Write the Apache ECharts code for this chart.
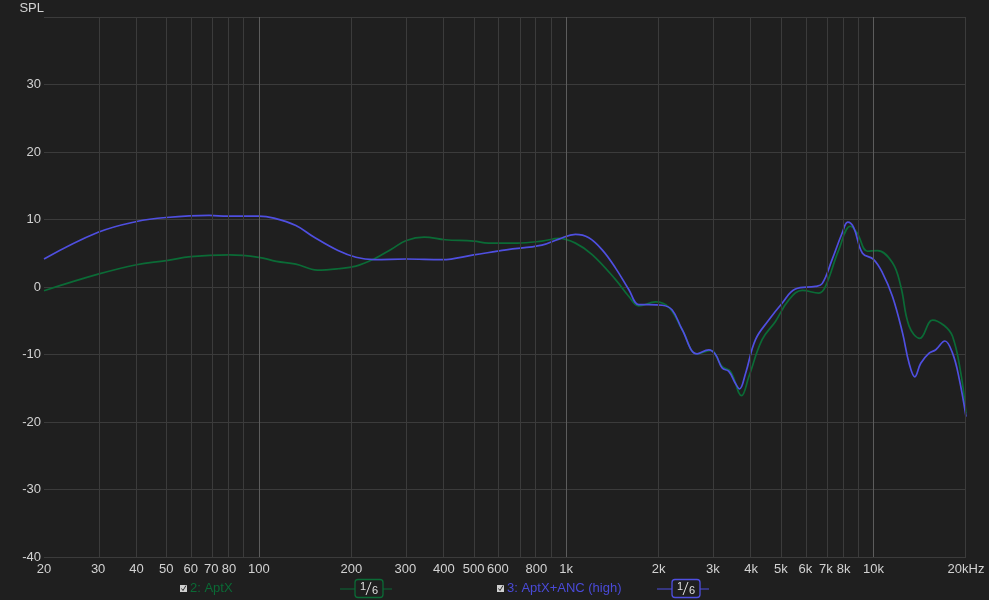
<!DOCTYPE html>
<html><head><meta charset="utf-8">
<script src="https://cdn.jsdelivr.net/npm/echarts@6/dist/echarts.min.js"></script>
<style>html,body{margin:0;padding:0;background:#1f1f1f}#c{width:989px;height:600px}</style>
</head><body><div id="c"></div>
<script>
// Frequencies (Hz) and SPL (dB)
const aptxFreq = [20,30,40,50,60,80,100,114,132,155,181,207,237,270,302,345,404,500,558,692,834,948,1072,1215,1448,1600,1723,1954,2158,2384,2667,2951,3219,3427,3723,3929,4341,4798,5305,5865,6640,6980,7709,8412,8845,9560,10300,11530,12270,13060,14160,15560,16980,18080,19230,20000];
const aptxSpl  = [-0.55,1.9,3.3,3.9,4.5,4.75,4.4,3.8,3.4,2.5,2.7,3.1,4.15,5.6,6.9,7.4,7.0,6.8,6.5,6.5,6.8,7.2,6.5,4.8,1.1,-1.4,-2.8,-2.2,-3.0,-6.3,-9.9,-9.4,-11.8,-12.5,-16.1,-13.3,-7.8,-5.1,-1.9,-0.5,-0.9,0.1,5.5,9.0,8.0,5.3,5.4,3.6,0.1,-5.8,-7.6,-4.9,-5.7,-7.3,-12.7,-18.7];
const ancFreq  = [20,30,40,50,69,79,100,112,132,151,181,207,237,302,394,500,638,834,947,1072,1185,1310,1448,1600,1723,1857,2053,2213,2384,2667,2911,3062,3219,3383,3557,3665,3835,4131,4563,5043,5572,6476,6808,7338,7909,8246,8623,9209,10000,10697,11530,12430,13060,13630,14250,15170,15950,17070,18080,18990,20000];
const ancSpl   = [4.15,8.1,9.7,10.3,10.6,10.5,10.5,10.2,9.1,7.4,5.4,4.4,4.05,4.15,4.05,4.75,5.5,6.2,7.1,7.8,7.3,5.5,2.8,-0.4,-2.6,-2.6,-2.7,-3.4,-6.3,-9.9,-9.3,-10.0,-12.0,-12.5,-14.3,-15.1,-12.8,-7.8,-4.9,-2.4,-0.3,0.1,0.5,4.1,8.0,9.6,8.8,5.0,4.1,2.1,-1.4,-6.8,-11.3,-13.3,-11.3,-9.8,-9.3,-8.0,-9.8,-13.5,-19.2];
const gridFreqs = [20,30,40,50,60,70,80,90,100,200,300,400,500,600,700,800,900,1000,2000,3000,4000,5000,6000,7000,8000,9000,10000,20000];
const labelFreqs = [20,30,40,50,60,70,80,100,200,300,400,500,600,800,1000,2000,3000,4000,5000,6000,7000,8000,10000,20000];
const decadeFreqs = [100,1000,10000];

const L = Math.log10;
const toPts = (f, v) => f.map((x, i) => [L(x), v[i]]);
const fmtF = v => {
  const f = Math.round(Math.pow(10, v));
  if (f >= 20000) return '20kHz';
  return f >= 1000 ? (f / 1000) + 'k' : String(f);
};

const chart = echarts.init(document.getElementById('c'), null, {renderer: 'canvas'});
const GREEN = '#0b6b36', BLUE = '#4f4fe0';
const FONT = 'Liberation Sans, Arial, sans-serif';

function legendItem(x, textX, boxX, label, color, textColor) {
  return [
    {type: 'rect', shape: {x: x, y: 585, width: 7, height: 7}, style: {fill: '#d0d0d0'}},
    {type: 'polyline', shape: {points: [[x + 1.5, 588.5], [x + 3, 590.5], [x + 6, 585.5]]}, style: {stroke: '#303030', lineWidth: 1, fill: null}},
    {type: 'text', x: textX, y: 582, style: {text: label, fill: textColor, font: '13px ' + FONT}},
    {type: 'line', shape: {x1: boxX - 15, y1: 589, x2: boxX + 37, y2: 589}, style: {stroke: color, lineWidth: 1}},
    {type: 'rect', shape: {x: boxX, y: 579.5, width: 28, height: 18, r: 3}, style: {fill: '#1f1f1f', stroke: color, lineWidth: 1.3}},
    {type: 'text', x: boxX + 5, y: 581, style: {text: '1', fill: '#e0e0e0', font: '11px ' + FONT}},
    {type: 'line', shape: {x1: boxX + 11, y1: 595, x2: boxX + 16, y2: 582}, style: {stroke: '#e0e0e0', lineWidth: 1}},
    {type: 'text', x: boxX + 17, y: 585, style: {text: '6', fill: '#e0e0e0', font: '11px ' + FONT}}
  ];
}

chart.setOption({
  backgroundColor: '#1f1f1f',
  animation: false,
  grid: {left: 44, right: 23, top: 17, bottom: 43},
  xAxis: {
    type: 'value', min: L(20), max: L(20000),
    axisLine: {show: false}, axisTick: {show: false}, splitLine: {show: false},
    axisLabel: {customValues: labelFreqs.map(L), formatter: fmtF, color: '#d2d2d2',
      fontFamily: FONT, fontSize: 13, margin: 6, hideOverlap: false}
  },
  yAxis: {
    type: 'value', min: -40, max: 40, interval: 10,
    name: 'SPL', nameLocation: 'end', nameGap: 2,
    nameTextStyle: {color: '#d2d2d2', fontFamily: FONT, fontSize: 13, align: 'right', padding: [0, 0, 0, 0]},
    axisLine: {show: false}, axisTick: {show: false},
    splitLine: {lineStyle: {color: '#3b3b3b', width: 1}},
    axisLabel: {color: '#d2d2d2', fontFamily: FONT, fontSize: 13, margin: 3,
      formatter: v => v === 40 ? '' : String(v)}
  },
  series: [
    {
      type: 'line', name: '2: AptX', data: toPts(aptxFreq, aptxSpl), smooth: 0.4,
      showSymbol: false, lineStyle: {color: GREEN, width: 1.7}, z: 3,
      markLine: {
        silent: true, symbol: 'none', animation: false, label: {show: false},
        data: gridFreqs.map(f => ({xAxis: L(f), lineStyle: {color: decadeFreqs.includes(f) ? '#5c5c5c' : '#3b3b3b', width: 1, type: 'solid'}}))
      }
    },
    {
      type: 'line', name: '3: AptX+ANC (high)', data: toPts(ancFreq, ancSpl), smooth: 0.4,
      showSymbol: false, lineStyle: {color: BLUE, width: 1.7}, z: 4
    }
  ],
  graphic: [].concat(
    legendItem(180, 190, 355, '2: AptX', GREEN, '#0a6a35'),
    legendItem(497, 507, 672, '3: AptX+ANC (high)', BLUE, '#4a4ad8')
  )
});
</script></body></html>
